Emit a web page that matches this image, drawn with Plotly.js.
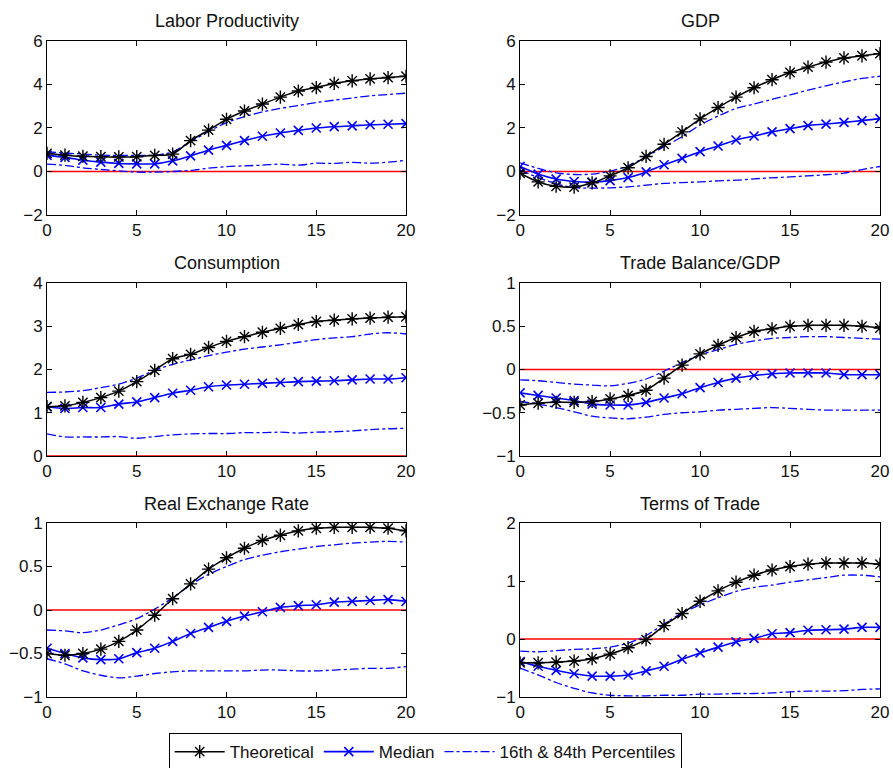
<!DOCTYPE html>
<html>
<head>
<meta charset="utf-8">
<script src="https://cdn.plot.ly/plotly-3.0.1.min.js"></script>
<style>html,body{margin:0;padding:0;background:#fff;}#chart{width:893px;height:768px;}</style>
</head>
<body>
<div id="chart"></div>
<script>
const horizon = [0,1,2,3,4,5,6,7,8,9,10,11,12,13,14,15,16,17,18,19,20];
const panelTitles = ["Labor Productivity","GDP","Consumption","Trade Balance/GDP","Real Exchange Rate","Terms of Trade"];
const legendNames = ["Theoretical","Median","16th & 84th Percentiles"];

// Labor Productivity
const lpTheo  = [0.83,0.75,0.70,0.68,0.67,0.68,0.74,0.80,1.42,1.90,2.40,2.78,3.10,3.42,3.70,3.86,4.05,4.17,4.26,4.32,4.38];
const lpMed   = [0.74,0.65,0.52,0.43,0.37,0.35,0.35,0.49,0.72,0.98,1.20,1.42,1.62,1.77,1.89,2.00,2.06,2.10,2.15,2.17,2.20];
const lpHigh  = [0.90,0.85,0.80,0.75,0.74,0.74,0.75,0.90,1.37,1.83,2.25,2.52,2.74,2.90,3.03,3.17,3.28,3.38,3.48,3.54,3.60];
const lpLow   = [0.34,0.28,0.17,0.09,0.03,-0.03,-0.03,0.00,0.05,0.15,0.22,0.26,0.29,0.34,0.29,0.38,0.37,0.42,0.38,0.43,0.51];
// GDP
const gdpTheo = [-0.08,-0.48,-0.68,-0.72,-0.52,-0.20,0.17,0.69,1.25,1.82,2.42,2.94,3.42,3.85,4.22,4.55,4.80,5.03,5.22,5.32,5.42];
const gdpMed  = [0.23,-0.12,-0.35,-0.46,-0.49,-0.42,-0.28,-0.02,0.31,0.60,0.91,1.17,1.45,1.63,1.82,1.97,2.11,2.18,2.26,2.34,2.43];
const gdpHigh = [0.40,0.14,-0.06,-0.14,-0.12,0.02,0.26,0.68,1.14,1.60,2.14,2.55,2.90,3.10,3.32,3.52,3.74,3.94,4.12,4.28,4.38];
const gdpLow  = [0.06,-0.28,-0.57,-0.74,-0.77,-0.75,-0.71,-0.63,-0.55,-0.51,-0.48,-0.43,-0.40,-0.34,-0.29,-0.25,-0.20,-0.15,-0.08,0.09,0.23];
// Consumption
const cTheo   = [1.14,1.16,1.24,1.35,1.50,1.72,1.98,2.25,2.35,2.51,2.65,2.76,2.86,2.95,3.04,3.11,3.14,3.17,3.19,3.21,3.22];
const cMed    = [1.14,1.10,1.12,1.12,1.20,1.25,1.35,1.45,1.52,1.60,1.64,1.66,1.68,1.70,1.72,1.73,1.74,1.76,1.78,1.78,1.81];
const cHigh   = [1.47,1.48,1.51,1.58,1.66,1.80,1.98,2.12,2.22,2.32,2.40,2.47,2.52,2.57,2.63,2.69,2.73,2.76,2.82,2.85,2.82];
const cLow    = [0.51,0.44,0.44,0.44,0.45,0.41,0.45,0.49,0.51,0.52,0.52,0.54,0.54,0.55,0.53,0.55,0.56,0.58,0.61,0.63,0.64];
// Trade Balance/GDP
const tbTheo  = [-0.41,-0.39,-0.38,-0.38,-0.37,-0.34,-0.30,-0.24,-0.10,0.05,0.18,0.28,0.37,0.44,0.47,0.50,0.51,0.51,0.51,0.50,0.48];
const tbMed   = [-0.27,-0.30,-0.33,-0.36,-0.40,-0.41,-0.41,-0.38,-0.33,-0.28,-0.21,-0.15,-0.10,-0.07,-0.05,-0.04,-0.04,-0.04,-0.06,-0.06,-0.06];
const tbHigh  = [-0.12,-0.13,-0.15,-0.17,-0.18,-0.19,-0.16,-0.11,-0.02,0.08,0.17,0.23,0.29,0.33,0.36,0.37,0.38,0.38,0.37,0.36,0.35];
const tbLow   = [-0.37,-0.40,-0.44,-0.49,-0.54,-0.56,-0.57,-0.55,-0.52,-0.50,-0.49,-0.47,-0.46,-0.45,-0.44,-0.45,-0.46,-0.47,-0.47,-0.47,-0.47];
// Real Exchange Rate
const rerTheo = [-0.50,-0.52,-0.50,-0.45,-0.36,-0.23,-0.06,0.13,0.30,0.47,0.60,0.71,0.80,0.86,0.91,0.94,0.95,0.95,0.95,0.94,0.91];
const rerMed  = [-0.44,-0.50,-0.55,-0.57,-0.56,-0.49,-0.44,-0.36,-0.27,-0.20,-0.13,-0.07,-0.02,0.03,0.05,0.06,0.09,0.10,0.11,0.12,0.10];
const rerHigh = [-0.23,-0.24,-0.26,-0.23,-0.17,-0.10,0.01,0.14,0.29,0.41,0.50,0.58,0.63,0.67,0.70,0.73,0.75,0.77,0.78,0.79,0.78];
const rerLow  = [-0.56,-0.62,-0.70,-0.75,-0.78,-0.76,-0.73,-0.71,-0.70,-0.70,-0.70,-0.70,-0.69,-0.69,-0.70,-0.70,-0.69,-0.68,-0.67,-0.67,-0.65];
// Terms of Trade
const totTheo = [-0.41,-0.41,-0.40,-0.38,-0.34,-0.26,-0.15,-0.01,0.23,0.44,0.65,0.83,0.98,1.10,1.19,1.25,1.29,1.31,1.31,1.31,1.29];
const totMed  = [-0.39,-0.47,-0.54,-0.60,-0.64,-0.64,-0.62,-0.55,-0.47,-0.35,-0.24,-0.14,-0.05,0.01,0.09,0.11,0.15,0.16,0.17,0.20,0.20];
const totHigh = [-0.21,-0.22,-0.20,-0.18,-0.17,-0.14,-0.07,0.06,0.26,0.45,0.59,0.71,0.82,0.89,0.93,0.98,1.02,1.06,1.10,1.10,1.07];
const totLow  = [-0.50,-0.62,-0.75,-0.85,-0.93,-0.97,-0.98,-0.98,-0.97,-0.97,-0.95,-0.95,-0.94,-0.94,-0.93,-0.91,-0.90,-0.90,-0.89,-0.87,-0.86];

const yRanges = [[-2,6],[-2,6],[0,4],[-1,1],[-1,1],[-1,2]];
const yDticks = [2,2,1,0.5,0.5,1];
const zeroLine = [0,0];
const zeroX = [0,20];

const panels = [
  [lpTheo,lpMed,lpHigh,lpLow],
  [gdpTheo,gdpMed,gdpHigh,gdpLow],
  [cTheo,cMed,cHigh,cLow],
  [tbTheo,tbMed,tbHigh,tbLow],
  [rerTheo,rerMed,rerHigh,rerLow],
  [totTheo,totMed,totHigh,totLow]
];

const FONT = "Liberation Sans, Arial, Helvetica, sans-serif";
const xDomains = [[0,0.431],[0.568,1]];
const yDomains = [[0.7348,1],[0.3674,0.6311],[0,0.2652]];
const titleY = [1.0305,0.6616,0.2942];

const traces = [];
const layout = {
  width: 893, height: 768,
  margin: {l:47, r:13, t:41, b:71, autoexpand: false},
  paper_bgcolor: "#fff", plot_bgcolor: "#fff",
  font: {family: FONT, size: 17, color: "#111"},
  showlegend: true,
  legend: {
    orientation: "h", x: 0.454, xanchor: "center", y: -0.055, yanchor: "top",
    bordercolor: "#000", borderwidth: 1, bgcolor: "#fff",
    font: {family: FONT, size: 17, color: "#111"},
    itemwidth: 50, traceorder: "normal"
  },
  annotations: []
};

panels.forEach((p, i) => {
  const n = i + 1;
  const xa = n === 1 ? "x" : "x" + n;
  const ya = n === 1 ? "y" : "y" + n;
  const row = Math.floor(i / 2), col = i % 2;
  const axX = n === 1 ? "xaxis" : "xaxis" + n;
  const axY = n === 1 ? "yaxis" : "yaxis" + n;
  layout[axX] = {
    domain: xDomains[col], anchor: ya, range: [0,20], tickvals: [0,5,10,15,20],
    ticks: "inside", ticklen: 5, tickcolor: "#000", mirror: "ticks",
    showline: true, linecolor: "#000", linewidth: 1, showgrid: false, zeroline: false,
    tickfont: {family: FONT, size: 17, color: "#111"}
  };
  const yr = yRanges[i];
  const yt = [];
  for (let v = yr[0]; v <= yr[1] + 1e-9; v += yDticks[i]) yt.push(Math.round(v*100)/100);
  layout[axY] = {
    domain: yDomains[row], anchor: xa, range: yr, tickvals: yt,
    ticks: "inside", ticklen: 5, tickcolor: "#000", mirror: "ticks",
    showline: true, linecolor: "#000", linewidth: 1, showgrid: false, zeroline: false,
    tickfont: {family: FONT, size: 17, color: "#111"}
  };
  layout.annotations.push({
    text: panelTitles[i], xref: "paper", yref: "paper",
    x: (xDomains[col][0] + xDomains[col][1]) / 2, y: titleY[row],
    xanchor: "center", yanchor: "middle", showarrow: false,
    font: {family: FONT, size: 18, color: "#111"}
  });
  // zero reference line
  traces.push({x: zeroX, y: zeroLine, xaxis: xa, yaxis: ya, mode: "lines",
    line: {color: "#ff0000", width: 1.3}, showlegend: false, hoverinfo: "skip"});
  // percentiles
  [p[2], p[3]].forEach((s, k) => {
    traces.push({x: horizon, y: s, xaxis: xa, yaxis: ya, mode: "lines",
      name: legendNames[2], legendgroup: "pct", showlegend: i === 0 && k === 0,
      line: {color: "#0000ff", width: 1.3, dash: "dashdot", shape: "spline", smoothing: 0.8}});
  });
  // median
  traces.push({x: horizon, y: p[1], xaxis: xa, yaxis: ya, mode: "lines+markers",
    name: legendNames[1], legendgroup: "med", showlegend: i === 0,
    line: {color: "#0000ff", width: 1.6, shape: "spline", smoothing: 0.8},
    marker: {symbol: "x-thin-open", size: 9, color: "#0000ff", line: {color: "#0000ff", width: 1.6}}});
  // theoretical
  traces.push({x: horizon, y: p[0], xaxis: xa, yaxis: ya, mode: "lines+markers",
    name: legendNames[0], legendgroup: "theo", showlegend: i === 0,
    line: {color: "#000000", width: 1.5, shape: "spline", smoothing: 0.8},
    marker: {symbol: "asterisk-open", size: 11, color: "#000", line: {color: "#000", width: 1.4}}});
});

const legendOrder = {theo: 1, med: 2, pct: 3};
traces.forEach(t => { if (t.legendgroup) t.legendrank = legendOrder[t.legendgroup]; });

Plotly.newPlot("chart", traces, layout, {staticPlot: true, displayModeBar: false});
</script>
</body>
</html>
